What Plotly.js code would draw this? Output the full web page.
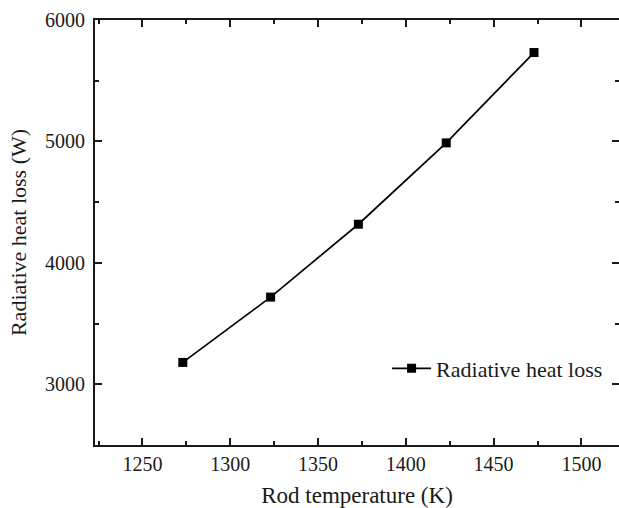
<!DOCTYPE html>
<html>
<head>
<meta charset="utf-8">
<script src="https://cdn.plot.ly/plotly-3.0.1.min.js"></script>
<style>
html,body{margin:0;padding:0;overflow:hidden;background:#fff;width:619px;height:508px;}
#chart{width:619px;height:508px;}
</style>
</head>
<body>
<div id="chart"></div>
<script>
const rodTemperature = [1273, 1323, 1373, 1423, 1473];
const radiativeHeatLoss = [3180, 3718, 4318, 4988, 5732];
const seriesName = "Radiative heat loss";
const xTitle = "Rod temperature (K)";
const yTitle = "Radiative heat loss (W)";

const font = "Liberation Serif, Times New Roman, serif";
const ink = "#1a1a1a";

const trace = {
  x: rodTemperature,
  y: radiativeHeatLoss,
  name: seriesName,
  type: "scatter",
  mode: "lines+markers",
  line: {color: "#000", width: 1.7},
  marker: {symbol: "square", size: 9, color: "#000"},
  showlegend: true
};

const axisCommon = {
  showgrid: false,
  zeroline: false,
  showline: true,
  linecolor: ink,
  linewidth: 2,
  mirror: "allticks",
  ticks: "inside",
  ticklen: 7,
  tickwidth: 2,
  tickcolor: ink,
  tickfont: {family: font, size: 20, color: ink}
};

const layout = {
  width: 619,
  height: 508,
  margin: {l: 95, r: 0, t: 20, b: 63},
  paper_bgcolor: "#fff",
  plot_bgcolor: "#fff",
  font: {family: font, color: ink},
  xaxis: Object.assign({}, axisCommon, {
    range: [1223, 1521.4],
    tickvals: [1250, 1300, 1350, 1400, 1450, 1500],
    minor: {ticks: "inside", ticklen: 4, tickwidth: 2, tickcolor: ink, dtick: 25, tick0: 1225, showgrid: false},
    title: {text: xTitle, font: {family: font, size: 23, color: ink}, standoff: 14}
  }),
  yaxis: Object.assign({}, axisCommon, {
    range: [2500, 6000],
    tickvals: [3000, 4000, 5000, 6000],
    ticklabelstandoff: 4,
    minor: {ticks: "inside", ticklen: 4, tickwidth: 2, tickcolor: ink, dtick: 500, tick0: 2500, showgrid: false},
    title: {text: yTitle, font: {family: font, size: 22, color: ink}, standoff: 12}
  }),
  legend: {
    x: 0.5574, xanchor: "left",
    y: 0.18, yanchor: "middle",
    itemwidth: 39,
    bgcolor: "rgba(0,0,0,0)",
    borderwidth: 0,
    font: {family: font, size: 22, color: ink}
  }
};

Plotly.newPlot("chart", [trace], layout, {displayModeBar: false, staticPlot: true});
</script>
</body>
</html>
